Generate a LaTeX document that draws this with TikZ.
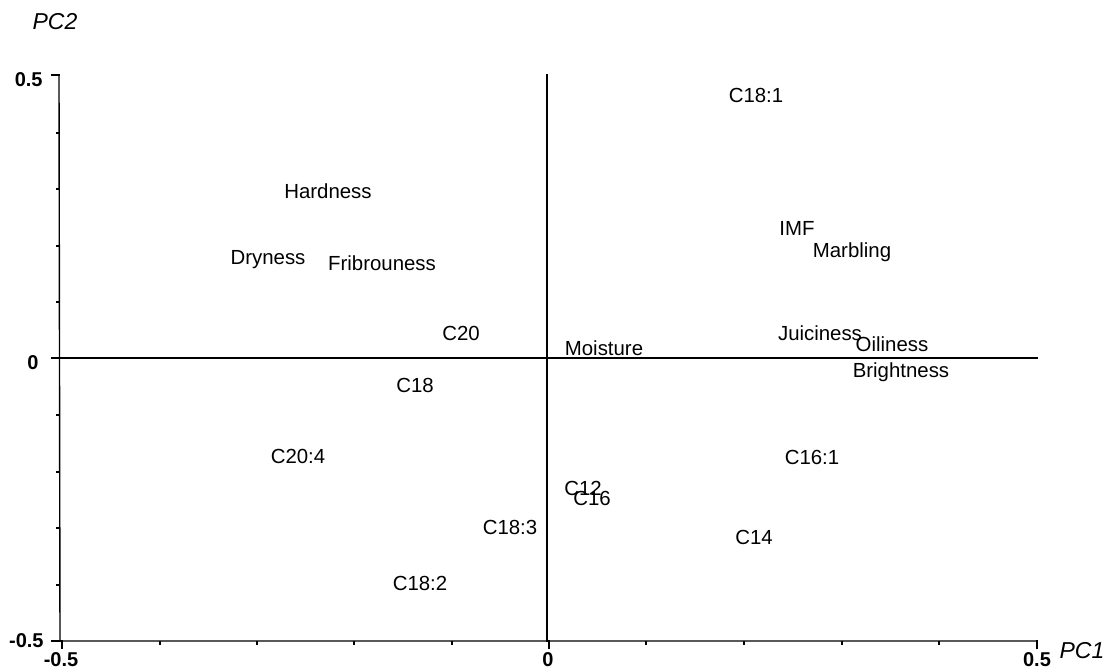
\documentclass[tikz,border=0pt]{standalone}
\usepackage{fontspec}
\setmainfont{Liberation Sans}
\begin{document}
\begin{tikzpicture}[x=0.5pt,y=-0.5pt,
  lbl/.style={font=\fontsize{10.2}{12}\selectfont, inner sep=0pt, anchor=base},
  ticklbl/.style={font=\fontsize{10}{12}\selectfont\bfseries, inner sep=0pt},
  axlbl/.style={font=\fontsize{11.5}{13}\selectfont\itshape, inner sep=0pt},
  axis/.style={line width=0.7pt, line cap=rect}]
\useasboundingbox (0,0) rectangle (1108,671);
% axes
\draw[axis] (59,75) -- (60,641) -- (1037,641);
\draw[axis] (52,358) -- (1037,358);
\draw[axis] (547,75) -- (547,641);
% y ticks
\draw[axis] (52,75) -- (59,75);
\draw[axis] (52,641) -- (60,641);
\foreach \y in {133,189,246,302,415,472,528,585} \draw[line width=0.6pt] (56,\y) -- (59.5,\y);
% x ticks
\foreach \x in {62,549,1037} \draw[axis] (\x,641) -- (\x,648);
\foreach \x in {160,257,354,452,646,744,842,939} \draw[line width=0.6pt] (\x,641) -- (\x,645);
% tick labels
\node[ticklbl, anchor=east] (y5) at (43,80) {0.5};
\node[ticklbl, anchor=east] (y0) at (39,363) {0};
\node[ticklbl, anchor=east] (ym5) at (44,641) {-0.5};
\node[ticklbl] (xm5) at (61,660) {-0.5};
\node[ticklbl] (x0) at (548,660) {0};
\node[ticklbl] (x5) at (1037,660) {0.5};
\node[axlbl] (pc2) at (55,22) {PC2};
\node[axlbl] (pc1) at (1082,651) {PC1};
% labels
\node[lbl] (c181) at (756,102) {C18:1};
\node[lbl] (hard) at (328,198) {Hardness};
\node[lbl] (imf) at (797,235) {IMF};
\node[lbl] (marb) at (852,257) {Marbling};
\node[lbl] (dry) at (268,264) {Dryness};
\node[lbl] (frib) at (382,270) {Fribrouness};
\node[lbl] (c20) at (461,340) {C20};
\node[lbl] (moist) at (604,355) {Moisture};
\node[lbl] (juic) at (820,340) {Juiciness};
\node[lbl] (oil) at (892,351) {Oiliness};
\node[lbl] (bright) at (901,377) {Brightness};
\node[lbl] (c18) at (415,392) {C18};
\node[lbl] (c204) at (298,463) {C20:4};
\node[lbl] (c161) at (812,464) {C16:1};
\node[lbl] (c12) at (583,495) {C12};
\node[lbl] (c16) at (592,505) {C16};
\node[lbl] (c183) at (510,534) {C18:3};
\node[lbl] (c14) at (754,544) {C14};
\node[lbl] (c182) at (420,590) {C18:2};
\end{tikzpicture}
\end{document}
